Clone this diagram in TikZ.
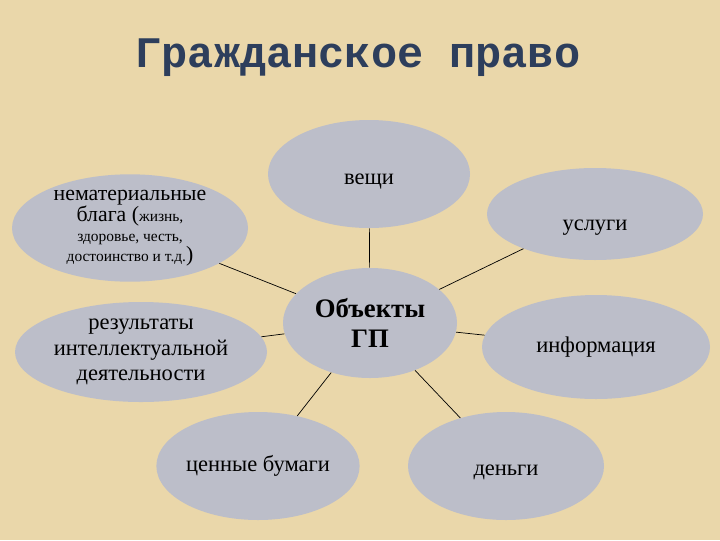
\documentclass[tikz,border=0pt]{standalone}
\usepackage{fontspec}
\setmainfont{Liberation Serif}
\newfontfamily\titlefont{Liberation Mono}
\usetikzlibrary{shapes.geometric}
\definecolor{parchment}{RGB}{234,215,170}
\definecolor{ovalgray}{RGB}{188,190,201}
\definecolor{titleblue}{RGB}{45,62,92}
\begin{document}
\begin{tikzpicture}[x=0.025cm,y=-0.025cm,
    oval/.style 2 args={ellipse,fill=ovalgray,inner sep=0pt,
      minimum width=#1*0.025cm,minimum height=#2*0.025cm,
      font=\fontsize{16}{18}\selectfont,align=center},
    link/.style={black,line width=0.5pt}]
  \fill[parchment] (0,0) rectangle (720,540);
  \useasboundingbox (0,0) rectangle (720,540);
  \node[titleblue,font=\titlefont\bfseries\fontsize{31}{34}\selectfont] (title) at (358,58) {Гражданское право};
  % центр и семь объектов
  \node[oval={174}{110},font=\bfseries\fontsize{19}{21}\selectfont] (gp) at (370,323) {Объекты\\ГП};
  \node[oval={202}{108}] (veshchi) at (369,174) {\rule{0pt}{18pt}вещи};
  \node[oval={216}{92}] (uslugi) at (595,214) {\rule{0pt}{27pt}услуги};
  \node[oval={236}{96},font=\fontsize{15.5}{14}\selectfont] (nemat) at (130,228)
    {нематериальные\\блага ({\fontsize{11}{14}\selectfont жизнь,}\\{\fontsize{11}{14}\selectfont здоровье, честь,}\\{\fontsize{11}{14}\selectfont достоинство и т.д.})};
  \node[oval={252}{100}] (rezult) at (141,352) {результаты\\интеллектуальной\\деятельности};
  \node[oval={228}{104}] (inform) at (596,347) {информация};
  \node[oval={194}{108}] (bumagi) at (258,466) {ценные бумаги};
  \node[oval={196}{108}] (dengi) at (506,466) {\rule{0pt}{17pt}деньги};
  \foreach \n in {veshchi,uslugi,nemat,rezult,inform,bumagi,dengi}
    \draw[link] (gp) -- (\n);
\end{tikzpicture}
\end{document}
